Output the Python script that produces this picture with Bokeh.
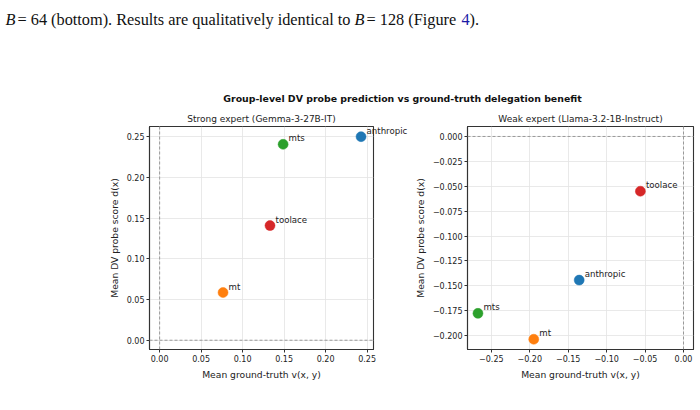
from bokeh.plotting import figure
from bokeh.layouts import column
from bokeh.models import (ColumnDataSource, Range1d, FixedTicker, Span, GridBox,
                          CustomJSTickFormatter)
from bokeh.core.properties import value
from bokeh.embed import file_html
from bokeh.resources import INLINE

# ---- data -------------------------------------------------------------
datasets = ["anthropic", "mt", "mts", "toolace"]
colors = ["#1f77b4", "#ff7f0e", "#2ca02c", "#d62728"]

strong_gt = [0.2427, 0.0764, 0.1488, 0.1330]      # mean ground-truth v(x, y)
strong_dv = [0.2502, 0.0586, 0.2408, 0.1409]      # mean DV probe score d(x)

weak_gt = [-0.1357, -0.1948, -0.2674, -0.0561]
weak_dv = [-0.1443, -0.2037, -0.1777, -0.0550]

strong_xticks = [0.0, 0.05, 0.10, 0.15, 0.20, 0.25]
strong_yticks = [0.0, 0.05, 0.10, 0.15, 0.20, 0.25]
weak_xticks = [-0.25, -0.20, -0.15, -0.10, -0.05, 0.0]
weak_yticks = [-0.200, -0.175, -0.150, -0.125, -0.100, -0.075, -0.050, -0.025, 0.0]

suptitle = "Group-level DV probe prediction vs ground-truth delegation benefit"
strong_title = "Strong expert (Gemma-3-27B-IT)"
weak_title = "Weak expert (Llama-3.2-1B-Instruct)"
xlabel = "Mean ground-truth v(x, y)"
ylabel = "Mean DV probe score d(x)"

# ---- geometry / style -------------------------------------------------
STRONG_XLIM, STRONG_YLIM = (-0.0122, 0.2577), (-0.0114, 0.2627)
WEAK_XLIM, WEAK_YLIM = (-0.281, 0.013), (-0.214, 0.010)

HEADER_H, PANEL_H = 124, 286
P1_W, P2_W = 410, 290
P1_BORDERS = dict(min_border_left=149, min_border_right=37, min_border_top=2,
                  min_border_bottom=61)
P2_BORDERS = dict(min_border_left=57, min_border_right=7, min_border_top=2,
                  min_border_bottom=60)

SANS = "DejaVu Sans"
INK = "#222222"
SPINE = "#333333"
TICK_PX = "8px"
AXIS_LABEL_PX = "9.2px"
POINT_LABEL_PX = "8.6px"
LABEL_DX, LABEL_DY = 5.5, -6      # screen px; negative y moves the name upward


def fmt(decimals):
    return CustomJSTickFormatter(code=f"""
        const s = Math.abs(tick).toFixed({decimals});
        return (tick < -1e-12 ? "\\u2212" : "") + s;
    """)


def point_labels(fig, src):
    fig.text("x", "y", text="name", source=src, x_offset=LABEL_DX, y_offset=LABEL_DY,
             text_font=value(SANS), text_font_size=POINT_LABEL_PX, text_color=INK,
             text_baseline="alphabetic", text_align="left")


def panel(xs, ys, xr, yr, xticks, yticks, xdec, ydec, width, borders, with_labels):
    p = figure(width=width, height=PANEL_H, x_range=Range1d(*xr), y_range=Range1d(*yr),
               output_backend="svg", toolbar_location=None,
               background_fill_color="white", border_fill_color="white", **borders)
    p.outline_line_color = SPINE
    p.outline_line_width = 1.1

    for ax, ticks, dec in ((p.xaxis[0], xticks, xdec), (p.yaxis[0], yticks, ydec)):
        ax.ticker = FixedTicker(ticks=ticks)
        ax.formatter = fmt(dec)
        ax.major_label_text_font = SANS
        ax.major_label_text_font_size = TICK_PX
        ax.major_label_text_color = INK
        ax.axis_label_text_font = SANS
        ax.axis_label_text_font_size = AXIS_LABEL_PX
        ax.axis_label_text_font_style = "normal"
        ax.axis_label_text_color = INK
        ax.axis_line_color = SPINE
        ax.axis_line_width = 1.1
        ax.major_tick_line_color = SPINE
        ax.major_tick_out = 3
        ax.major_tick_in = 0
        ax.minor_tick_line_color = None
        ax.major_label_standoff = 2
        ax.axis_label_standoff = 4
    p.xaxis.axis_label = xlabel
    p.yaxis.axis_label = ylabel

    p.grid.grid_line_color = "#e3e3e3"
    p.grid.grid_line_width = 0.8
    p.xgrid.ticker = FixedTicker(ticks=xticks)
    p.ygrid.ticker = FixedTicker(ticks=yticks)

    for dim in ("height", "width"):
        p.add_layout(Span(location=0, dimension=dim, line_color="#999999",
                          line_dash="3 2", line_width=1))

    src = ColumnDataSource(dict(x=xs, y=ys, name=datasets, color=colors))
    p.scatter("x", "y", source=src, size=10, fill_color="color", line_color="color",
              line_width=0.5)
    if with_labels:
        point_labels(p, src)
    return p, src


p1, src1 = panel(strong_gt, strong_dv, STRONG_XLIM, STRONG_YLIM, strong_xticks,
                 strong_yticks, 2, 2, P1_W, P1_BORDERS, with_labels=False)
p2, _ = panel(weak_gt, weak_dv, WEAK_XLIM, WEAK_YLIM, weak_xticks, weak_yticks,
              2, 3, P2_W, P2_BORDERS, with_labels=True)

# Transparent layer over both panels, sharing the left panel's data scale; its
# frame runs on to the right panel's edge, so the strong-expert names can spill
# past the axes.
frame_w = P1_W - P1_BORDERS["min_border_left"] - P1_BORDERS["min_border_right"]
layer_w = P1_W + P2_W
layer_frame_w = layer_w - P1_BORDERS["min_border_left"] - P2_BORDERS["min_border_right"]
x_end = STRONG_XLIM[0] + (STRONG_XLIM[1] - STRONG_XLIM[0]) * layer_frame_w / frame_w
layer = figure(width=layer_w, height=PANEL_H,
               x_range=Range1d(STRONG_XLIM[0], x_end), y_range=p1.y_range,
               output_backend="svg", toolbar_location=None,
               x_axis_location=None, y_axis_location=None,
               min_border_left=P1_BORDERS["min_border_left"],
               min_border_right=P2_BORDERS["min_border_right"],
               min_border_top=P1_BORDERS["min_border_top"],
               min_border_bottom=P1_BORDERS["min_border_bottom"])
layer.background_fill_alpha = 0
layer.border_fill_alpha = 0
layer.outline_line_color = None
layer.grid.visible = False
point_labels(layer, src1)

panels = GridBox(children=[(p1, 0, 0), (p2, 0, 1), (layer, 0, 0, 1, 2)], spacing=0)

# ---- header: running text line, figure title, panel titles ------------
top = figure(width=P1_W + P2_W, height=HEADER_H, x_range=Range1d(0, P1_W + P2_W),
             y_range=Range1d(HEADER_H, 0), output_backend="svg", toolbar_location=None,
             min_border=0, x_axis_location=None, y_axis_location=None,
             background_fill_color="white", border_fill_color="white")
top.outline_line_color = None
top.grid.visible = False

SERIF = "Liberation Serif"
body = [("B", 5, "italic", "#111111"),
        ("= 64 (bottom). Results are qualitatively identical to", 17, "normal", "#111111"),
        ("B", 354, "italic", "#111111"),
        ("= 128 (Figure", 366, "normal", "#111111"),
        ("4", 461, "normal", "#1a1aa6"),
        (").", 469, "normal", "#111111")]
for txt, x0, style, col in body:
    top.text(x=[x0], y=[19], text=[txt], text_font=value(SERIF),
             text_font_size="16.3px", text_font_style=style, text_color=col,
             text_baseline="alphabetic", text_align="left")

top.text(x=[402], y=[97.5], text=[suptitle], text_font=value(SANS),
         text_font_size="9.4px", text_font_style="bold", text_color="#111111",
         text_align="center", text_baseline="middle")
top.text(x=[261, 580], y=[118.5, 118.5], text=[strong_title, weak_title],
         text_font=value(SANS), text_font_size="9px", text_color=INK,
         text_align="center", text_baseline="middle")

layout = column(top, panels, spacing=0)
open("out.html", "w").write(file_html(layout, INLINE))
